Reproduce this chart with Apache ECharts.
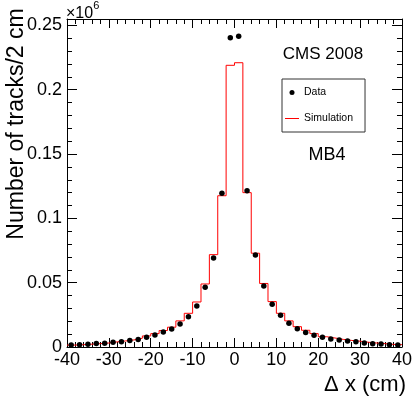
<!DOCTYPE html>
<html>
<head>
<meta charset="utf-8">
<script src="https://cdn.jsdelivr.net/npm/echarts@6/dist/echarts.min.js"></script>
<style>
  html, body { margin: 0; padding: 0; background: #fff; }
  #chart { width: 415px; height: 399px; }
</style>
</head>
<body>
<div id="chart"></div>
<script>
// bin edges (cm), 2 cm bins
const binEdges = [-40, -38, -36, -34, -32, -30, -28, -26, -24, -22, -20, -18, -16, -14, -12, -10, -8, -6, -4, -2,
  0, 2, 4, 6, 8, 10, 12, 14, 16, 18, 20, 22, 24, 26, 28, 30, 32, 34, 36, 38, 40];
const binCenters = [-39, -37, -35, -33, -31, -29, -27, -25, -23, -21, -19, -17, -15, -13, -11, -9, -7, -5, -3, -1,
  1, 3, 5, 7, 9, 11, 13, 15, 17, 19, 21, 23, 25, 27, 29, 31, 33, 35, 37, 39];

// values in units of 10^6 tracks
const simValues = [0.0015, 0.0018, 0.0022, 0.0026, 0.0031, 0.0040, 0.0047, 0.0055, 0.0068, 0.0086,
  0.0104, 0.0128, 0.0154, 0.0203, 0.0262, 0.0350, 0.0490, 0.0718, 0.1176, 0.2190,
  0.2210, 0.1200, 0.0729, 0.0494, 0.0353, 0.0262, 0.0203, 0.0158, 0.0130, 0.0104,
  0.0080, 0.0070, 0.0059, 0.0051, 0.0045, 0.0037, 0.0031, 0.0026, 0.0020, 0.0018];
const dataValues = [0.0015, 0.0017, 0.0022, 0.0027, 0.0030, 0.0037, 0.0040, 0.0050, 0.0059, 0.0075,
  0.0093, 0.0117, 0.0140, 0.0178, 0.0236, 0.0319, 0.0464, 0.0692, 0.1195, 0.2405,
  0.2415, 0.1215, 0.0715, 0.0474, 0.0332, 0.0247, 0.0184, 0.0142, 0.0112, 0.0091,
  0.0075, 0.0062, 0.0054, 0.0046, 0.0040, 0.0031, 0.0026, 0.0024, 0.0018, 0.0016];

const font = '"Liberation Sans", Arial, Helvetica, sans-serif';

// step line needs one point per lower edge plus the last edge
const simLine = binEdges.map((x, i) => [x, simValues[Math.min(i, simValues.length - 1)]]);
const dataPoints = binCenters.map((x, i) => [x, dataValues[i]]);

const chart = echarts.init(document.getElementById('chart'), null, { renderer: 'canvas' });

const tickStyle = { color: '#000', width: 1 };

const option = {
  animation: false,
  backgroundColor: '#fff',
  grid: { left: 67, right: 9, top: 19, bottom: 52 },
  xAxis: [
    {
      type: 'value', min: -40, max: 40, interval: 10,
      axisLine: { show: true, onZero: false, lineStyle: { color: '#000', width: 1 } },
      axisTick: { show: true, inside: true, length: 9, lineStyle: tickStyle },
      minorTick: { show: true, splitNumber: 5, length: 5, lineStyle: tickStyle },
      splitLine: { show: false },
      axisLabel: { fontSize: 18, color: '#000', fontFamily: font, margin: 4 }
    },
    {
      type: 'value', min: -40, max: 40, interval: 10, position: 'top',
      axisLine: { show: true, onZero: false, lineStyle: { color: '#000', width: 1 } },
      axisTick: { show: true, inside: true, length: 9, lineStyle: tickStyle },
      minorTick: { show: true, splitNumber: 5, length: 5, lineStyle: tickStyle },
      splitLine: { show: false },
      axisLabel: { show: false }
    }
  ],
  yAxis: [
    {
      type: 'value', min: 0, max: 0.255, interval: 0.05,
      axisLine: { show: true, onZero: false, lineStyle: { color: '#000', width: 1 } },
      axisTick: { show: true, inside: true, length: 10, lineStyle: tickStyle },
      minorTick: { show: true, splitNumber: 5, length: 5, lineStyle: tickStyle },
      splitLine: { show: false },
      axisLabel: { fontSize: 18, color: '#000', fontFamily: font, margin: 5, showMaxLabel: false }
    },
    {
      type: 'value', min: 0, max: 0.255, interval: 0.05, position: 'right',
      axisLine: { show: true, onZero: false, lineStyle: { color: '#000', width: 1 } },
      axisTick: { show: true, inside: true, length: 10, lineStyle: tickStyle },
      minorTick: { show: true, splitNumber: 5, length: 5, lineStyle: tickStyle },
      splitLine: { show: false },
      axisLabel: { show: false }
    }
  ],
  legend: {
    orient: 'vertical',
    left: 282, top: 79,
    padding: [8, 12, 8, 3],
    itemGap: 15,
    itemWidth: 14, itemHeight: 5,
    borderColor: '#333', borderWidth: 1,
    textStyle: { fontSize: 10.5, color: '#000', fontFamily: font },
    data: [
      { name: 'Data', icon: 'circle' },
      { name: 'Simulation', icon: 'path://M0,0L14,0L14,1L0,1Z' }
    ]
  },
  series: [
    {
      name: 'Simulation',
      type: 'line',
      step: 'end',
      data: simLine,
      showSymbol: false,
      color: '#ff0000',
      lineStyle: { color: '#ff0000', width: 1 },
      silent: true,
      z: 2
    },
    {
      name: 'Data',
      type: 'scatter',
      data: dataPoints,
      symbol: 'circle',
      symbolSize: 5.5,
      color: '#000',
      itemStyle: { color: '#000', opacity: 1 },
      silent: true,
      z: 3
    }
  ],
  graphic: [
    {
      type: 'text', x: 17, y: 124, rotation: Math.PI / 2,
      style: { text: 'Number of tracks/2 cm', fontSize: 23, fontFamily: font, fill: '#000',
        textAlign: 'center', textVerticalAlign: 'middle' }
    },
    {
      type: 'text', left: 66, top: 0,
      style: {
        text: '{a|×10}{b|6}',
        rich: {
          a: { fontSize: 16, fontFamily: font, fill: '#000', padding: [6, 0, 0, 0] },
          b: { fontSize: 11, fontFamily: font, fill: '#000', verticalAlign: 'top' }
        }
      }
    },
    {
      type: 'text', x: 323, y: 54,
      style: { text: 'CMS 2008', fontSize: 17, fontFamily: font, fill: '#000',
        textAlign: 'center', textVerticalAlign: 'middle' }
    },
    {
      type: 'text', x: 327, y: 155,
      style: { text: 'MB4', fontSize: 18, fontFamily: font, fill: '#000',
        textAlign: 'center', textVerticalAlign: 'middle' }
    },
    {
      type: 'text', x: 406, y: 385,
      style: { text: 'Δ x (cm)', fontSize: 22, fontFamily: font, fill: '#000',
        textAlign: 'right', textVerticalAlign: 'middle' }
    }
  ]
};

chart.setOption(option);
</script>
</body>
</html>
